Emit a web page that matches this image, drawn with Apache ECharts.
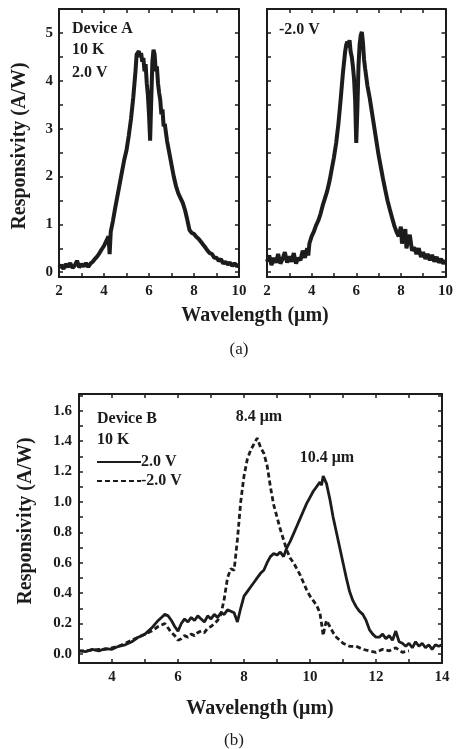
<!DOCTYPE html>
<html>
<head>
<meta charset="utf-8">
<script src="https://cdn.jsdelivr.net/npm/echarts@6/dist/echarts.min.js"></script>
<style>
html,body{margin:0;padding:0;background:#fff;}
#chart{width:456px;height:749px;}
</style>
</head>
<body>
<div id="chart"></div>
<script>
// ---------- DATA ----------
// Device A, +2.0 V
var lamA_pos = [2.0,2.1,2.2,2.3,2.4,2.5,2.6,2.7,2.8,2.9,3.0,3.1,3.2,3.3,3.4,3.5,3.6,3.7,3.8,3.9,4.0,4.1,4.2,4.25,4.3,4.4,4.5,4.6,4.7,4.8,4.9,5.0,5.1,5.2,5.3,5.4,5.45,5.5,5.55,5.6,5.65,5.7,5.75,5.8,5.85,5.9,5.95,6.0,6.05,6.1,6.15,6.2,6.25,6.3,6.35,6.4,6.45,6.5,6.55,6.6,6.65,6.7,6.8,6.9,7.0,7.1,7.2,7.3,7.4,7.5,7.6,7.7,7.8,7.9,8.0,8.1,8.2,8.3,8.4,8.5,8.6,8.7,8.8,8.9,9.0,9.1,9.2,9.3,9.4,9.5,9.6,9.7,9.8,9.9,10.0];
var resA_pos = [0.10,0.15,0.07,0.17,0.11,0.19,0.09,0.14,0.24,0.10,0.17,0.12,0.19,0.11,0.18,0.22,0.28,0.33,0.40,0.48,0.55,0.65,0.75,0.38,0.85,1.08,1.35,1.60,1.85,2.10,2.35,2.55,2.85,3.20,3.65,4.20,4.55,4.52,4.62,4.50,4.58,4.40,4.48,4.20,4.35,3.95,3.70,3.30,2.75,3.60,4.40,4.65,4.55,4.20,4.30,3.95,3.75,3.60,3.30,3.40,3.05,3.10,2.75,2.50,2.25,2.00,1.80,1.65,1.55,1.45,1.30,1.10,0.88,0.82,0.80,0.74,0.70,0.64,0.58,0.52,0.45,0.40,0.38,0.30,0.30,0.24,0.27,0.18,0.22,0.16,0.20,0.13,0.19,0.12,0.16];
// Device A, -2.0 V
var lamA_neg = [2.0,2.1,2.2,2.3,2.4,2.5,2.6,2.7,2.8,2.9,3.0,3.1,3.2,3.3,3.4,3.5,3.6,3.7,3.8,3.85,3.9,4.0,4.1,4.2,4.3,4.4,4.5,4.6,4.7,4.8,4.9,5.0,5.1,5.2,5.3,5.4,5.5,5.55,5.6,5.65,5.7,5.75,5.8,5.85,5.9,5.95,6.0,6.05,6.1,6.15,6.2,6.25,6.3,6.35,6.4,6.5,6.6,6.7,6.8,6.9,7.0,7.1,7.2,7.3,7.4,7.5,7.6,7.7,7.8,7.9,8.0,8.05,8.1,8.2,8.25,8.3,8.4,8.5,8.6,8.7,8.8,8.9,9.0,9.1,9.2,9.3,9.4,9.5,9.6,9.7,9.8,9.9,10.0];
var resA_neg = [0.22,0.35,0.15,0.30,0.20,0.38,0.18,0.28,0.42,0.20,0.33,0.22,0.40,0.18,0.30,0.25,0.45,0.30,0.50,0.35,0.60,0.75,0.85,0.98,1.08,1.22,1.40,1.55,1.70,1.90,2.15,2.40,2.70,3.10,3.60,4.15,4.60,4.75,4.82,4.70,4.85,4.60,4.50,4.30,4.05,3.60,2.70,3.40,4.30,4.75,4.95,5.02,4.80,4.45,4.25,3.90,3.65,3.35,3.05,2.75,2.45,2.20,1.95,1.72,1.50,1.32,1.15,0.98,0.85,0.75,0.95,0.60,0.70,0.90,0.50,0.62,0.78,0.45,0.52,0.38,0.50,0.32,0.42,0.28,0.38,0.25,0.36,0.22,0.32,0.20,0.28,0.18,0.25];
// Device B, +2.0 V (solid)
var lamB_pos = [3.0,3.2,3.4,3.6,3.8,4.0,4.2,4.4,4.6,4.8,5.0,5.2,5.4,5.5,5.6,5.7,5.8,5.9,6.0,6.1,6.2,6.3,6.4,6.5,6.6,6.7,6.8,6.9,7.0,7.1,7.2,7.3,7.4,7.5,7.6,7.7,7.8,7.9,8.0,8.1,8.2,8.3,8.4,8.5,8.6,8.7,8.8,8.9,9.0,9.1,9.2,9.3,9.4,9.5,9.6,9.7,9.8,9.9,10.0,10.1,10.2,10.3,10.35,10.4,10.5,10.6,10.7,10.8,10.9,11.0,11.1,11.2,11.3,11.4,11.5,11.6,11.7,11.8,11.9,12.0,12.1,12.2,12.3,12.4,12.5,12.6,12.7,12.8,12.9,13.0,13.1,13.2,13.3,13.4,13.5,13.6,13.7,13.8,13.9,14.0];
var resB_pos = [0.02,0.015,0.03,0.02,0.035,0.03,0.05,0.06,0.08,0.11,0.13,0.17,0.22,0.24,0.26,0.25,0.22,0.18,0.15,0.20,0.23,0.21,0.24,0.22,0.25,0.23,0.21,0.25,0.23,0.26,0.24,0.27,0.26,0.29,0.28,0.27,0.21,0.30,0.38,0.41,0.44,0.47,0.50,0.53,0.55,0.60,0.64,0.66,0.65,0.67,0.64,0.70,0.74,0.79,0.84,0.89,0.94,0.99,1.03,1.07,1.10,1.13,1.11,1.17,1.12,1.02,0.90,0.80,0.70,0.60,0.50,0.41,0.35,0.31,0.28,0.26,0.22,0.16,0.13,0.11,0.11,0.13,0.10,0.12,0.09,0.15,0.08,0.07,0.05,0.07,0.04,0.08,0.05,0.07,0.04,0.06,0.03,0.06,0.05,0.06];
// Device B, -2.0 V (dashed)
var lamB_neg = [3.0,3.2,3.4,3.6,3.8,4.0,4.2,4.4,4.6,4.8,5.0,5.2,5.4,5.5,5.6,5.7,5.8,5.9,6.0,6.1,6.2,6.3,6.4,6.5,6.6,6.7,6.8,6.9,7.0,7.1,7.2,7.3,7.4,7.5,7.6,7.7,7.8,7.9,8.0,8.1,8.2,8.3,8.4,8.5,8.6,8.7,8.8,8.9,9.0,9.1,9.2,9.3,9.4,9.5,9.6,9.7,9.8,9.9,10.0,10.1,10.2,10.3,10.35,10.4,10.45,10.5,10.6,10.7,10.8,10.9,11.0,11.2,11.4,11.6,11.8,12.0,12.2,12.4,12.6,12.8,13.0];
var resB_neg = [0.02,0.02,0.025,0.03,0.03,0.04,0.05,0.07,0.09,0.11,0.13,0.15,0.18,0.19,0.20,0.17,0.14,0.12,0.09,0.10,0.12,0.11,0.13,0.12,0.14,0.15,0.14,0.17,0.18,0.20,0.22,0.26,0.36,0.50,0.56,0.55,0.75,1.00,1.17,1.28,1.34,1.38,1.42,1.36,1.32,1.24,1.10,0.98,0.90,0.82,0.75,0.68,0.63,0.60,0.56,0.52,0.47,0.42,0.38,0.35,0.32,0.27,0.20,0.12,0.18,0.22,0.18,0.14,0.11,0.09,0.07,0.05,0.05,0.03,0.02,0.01,0.03,0.02,0.04,0.01,0.02];

// tick / label values
var ticksA_x = [2,3,4,5,6,7,8,9,10];
var labelsA_x = [2,4,6,8,10];
var ticksA_y = [0,0.5,1,1.5,2,2.5,3,3.5,4,4.5,5,5.5];
var labelsA_y = [0,1,2,3,4,5];
var ticksB_x = [3,4,5,6,7,8,9,10,11,12,13,14];
var labelsB_x = [4,6,8,10,12,14];
var ticksB_y = [0,0.1,0.2,0.3,0.4,0.5,0.6,0.7,0.8,0.9,1.0,1.1,1.2,1.3,1.4,1.5,1.6,1.7];
var labelsB_y = [0,0.2,0.4,0.6,0.8,1.0,1.2,1.4,1.6];

function zip(a,b){ return a.map(function(v,i){ return [v,b[i]]; }); }

var FONT = '"Liberation Serif", "Times New Roman", serif';
var INK = '#1c1c1c';

function axis(type, grid, pos, showLbl, min, max, ticks, labels, fmt, margin){
  return {
    type:'value', gridIndex:grid, position:pos, min:min, max:max,
    axisLine:{show:true, onZero:false, lineStyle:{color:INK, width:2}},
    axisTick:{show:true, inside:true, length:4, customValues:ticks, lineStyle:{color:INK, width:1.5}},
    axisLabel:{show:showLbl, customValues:labels, margin:margin, color:INK,
      fontFamily:FONT, fontWeight:'bold', fontSize:15, formatter:fmt, hideOverlap:false,
      showMinLabel:true, showMaxLabel:true},
    splitLine:{show:false}
  };
}
function intFmt(v){ return String(Math.round(v)); }
function decFmt(v){ return v.toFixed(1); }

var option = {
  animation:false,
  backgroundColor:'#fff',
  grid:[
    {left:59, top:9, width:180, height:268},
    {left:267, top:9, width:182, height:268},
    {left:79, top:394, width:363, height:269}
  ],
  xAxis:[
    axis('x',0,'bottom',true,2,10,ticksA_x,labelsA_x,intFmt,7),
    axis('x',0,'top',false,2,10,ticksA_x,labelsA_x,intFmt,7),
    axis('x',1,'bottom',true,2,10,ticksA_x,labelsA_x,intFmt,7),
    axis('x',1,'top',false,2,10,ticksA_x,labelsA_x,intFmt,7),
    axis('x',2,'bottom',true,3,14,ticksB_x,labelsB_x,intFmt,7),
    axis('x',2,'top',false,3,14,ticksB_x,labelsB_x,intFmt,7)
  ],
  yAxis:[
    axis('y',0,'left',true,-0.1,5.5,ticksA_y,labelsA_y,intFmt,6),
    axis('y',0,'right',false,-0.1,5.5,ticksA_y,labelsA_y,intFmt,6),
    axis('y',1,'left',false,-0.1,5.5,ticksA_y,labelsA_y,intFmt,6),
    axis('y',1,'right',false,-0.1,5.5,ticksA_y,labelsA_y,intFmt,6),
    axis('y',2,'left',true,-0.06,1.71,ticksB_y,labelsB_y,decFmt,7),
    axis('y',2,'right',false,-0.06,1.71,ticksB_y,labelsB_y,decFmt,7)
  ],
  legend:{
    data:['2.0 V','-2.0 V'], orient:'vertical', left:96, top:454,
    itemWidth:44, itemHeight:14, itemGap:3, padding:0,
    itemStyle:{opacity:0, borderWidth:0},
    textStyle:{fontFamily:FONT, fontWeight:'bold', fontSize:16, color:INK, padding:[0,0,0,-5], lineHeight:16}
  },
  series:[
    {type:'line', name:'A+', xAxisIndex:0, yAxisIndex:0, data:zip(lamA_pos,resA_pos),
     symbol:'none', lineStyle:{color:INK, width:4}, itemStyle:{color:INK}, silent:true},
    {type:'line', name:'A-', xAxisIndex:2, yAxisIndex:2, data:zip(lamA_neg,resA_neg),
     symbol:'none', lineStyle:{color:INK, width:4}, itemStyle:{color:INK}, silent:true},
    {type:'line', name:'2.0 V', xAxisIndex:4, yAxisIndex:4, data:zip(lamB_pos,resB_pos),
     symbol:'none', lineStyle:{color:INK, width:2.8}, itemStyle:{color:INK}, silent:true},
    {type:'line', name:'-2.0 V', xAxisIndex:4, yAxisIndex:4, data:zip(lamB_neg,resB_neg),
     symbol:'none', lineStyle:{color:INK, width:2.8, type:[5,3]}, itemStyle:{color:INK}, silent:true}
  ],
  graphic:[
    {type:'text', left:72, top:21, style:{text:'Device A', font:'bold 16px '+FONT, fill:INK}},
    {type:'text', left:72, top:42, style:{text:'10 K', font:'bold 16px '+FONT, fill:INK}},
    {type:'text', left:72, top:65, style:{text:'2.0 V', font:'bold 16px '+FONT, fill:INK}},
    {type:'text', left:279, top:22, style:{text:'-2.0 V', font:'bold 16px '+FONT, fill:INK}},
    {type:'text', x:20, y:146, rotation:Math.PI/2,
     style:{text:'Responsivity (A/W)', font:'bold 20px '+FONT, fill:INK, align:'center', verticalAlign:'middle'}},
    {type:'text', x:255, y:316,
     style:{text:'Wavelength (\u03bcm)', font:'bold 20px '+FONT, fill:INK, align:'center', verticalAlign:'middle'}},
    {type:'text', x:239, y:350,
     style:{text:'(a)', font:'17px '+FONT, fill:INK, align:'center', verticalAlign:'middle'}},
    {type:'text', left:97, top:411, style:{text:'Device B', font:'bold 16px '+FONT, fill:INK}},
    {type:'text', left:97, top:432, style:{text:'10 K', font:'bold 16px '+FONT, fill:INK}},
    {type:'text', x:259, y:417,
     style:{text:'8.4 \u03bcm', font:'bold 16px '+FONT, fill:INK, align:'center', verticalAlign:'middle'}},
    {type:'text', x:327, y:458,
     style:{text:'10.4 \u03bcm', font:'bold 16px '+FONT, fill:INK, align:'center', verticalAlign:'middle'}},
    {type:'text', x:26, y:521, rotation:Math.PI/2,
     style:{text:'Responsivity (A/W)', font:'bold 20px '+FONT, fill:INK, align:'center', verticalAlign:'middle'}},
    {type:'text', x:260, y:709,
     style:{text:'Wavelength (\u03bcm)', font:'bold 20px '+FONT, fill:INK, align:'center', verticalAlign:'middle'}},
    {type:'text', x:234, y:741,
     style:{text:'(b)', font:'17px '+FONT, fill:INK, align:'center', verticalAlign:'middle'}}
  ]
};
var chart = echarts.init(document.getElementById('chart'), null, {renderer:'canvas'});
chart.setOption(option);
</script>
</body>
</html>
